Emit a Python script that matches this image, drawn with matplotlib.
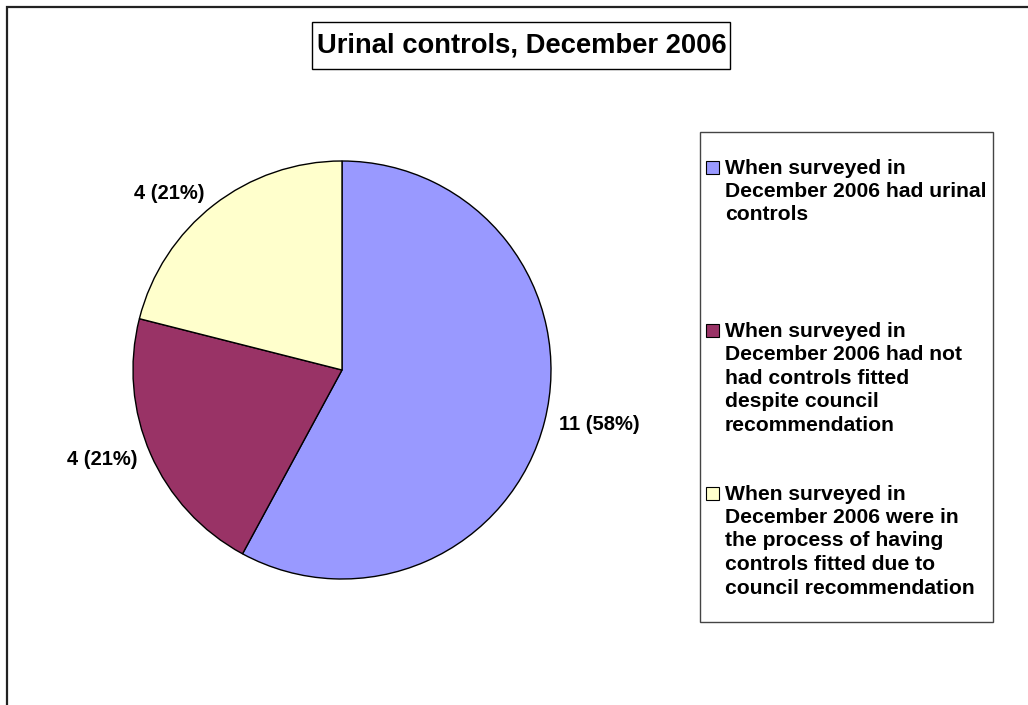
import numpy as np
import matplotlib
matplotlib.use("Agg")
import matplotlib.pyplot as plt
from matplotlib.patches import Rectangle

plt.rcParams["font.family"] = ["Liberation Sans", "DejaVu Sans"]

title = "Urinal controls, December 2006"
counts = [11, 4, 4]
colors = ["#9999FF", "#993366", "#FFFFCC"]
legend_labels = [
    "When surveyed in\nDecember 2006 had urinal\ncontrols",
    "When surveyed in\nDecember 2006 had not\nhad controls fitted\ndespite council\nrecommendation",
    "When surveyed in\nDecember 2006 were in\nthe process of having\ncontrols fitted due to\ncouncil recommendation",
]

W, H = 1028, 705
fig = plt.figure(figsize=(W / 100, H / 100), dpi=100, facecolor="white")


def fx(x):
    return x / W


def fy(y):
    return 1 - y / H


# outer chart-area border (only left/top visible in the frame)
fig.patches.append(Rectangle((fx(7), fy(H + 20)), fx(W + 40), (H + 13) / H,
                             transform=fig.transFigure, fill=False,
                             edgecolor="#222222", lw=1.6))

# title with its box
fig.patches.append(Rectangle((fx(312), fy(69)), fx(730 - 312), (69 - 22) / H,
                             transform=fig.transFigure, fill=False,
                             edgecolor="black", lw=1))
fig.text(fx(522), fy(45.5), title, ha="center", va="center",
         fontsize=19.7, fontweight="bold")

# pie
cx, cy, r = 342, 370, 209
ax = fig.add_axes([fx(cx - r), fy(cy + r), 2 * r / W, 2 * r / H])
total = sum(counts)
labels = [f"{c} ({c / total * 100:.0f}%)" for c in counts]
wedges, texts = ax.pie(counts, colors=colors, startangle=90, counterclock=False,
                       labels=labels, labeldistance=1.07,
                       wedgeprops=dict(edgecolor="black", linewidth=1),
                       textprops=dict(fontsize=14.5, fontweight="bold"))
ax.set_xlim(-1, 1)
ax.set_ylim(-1, 1)
ax.set_aspect("auto")
ax.axis("off")

# legend box, drawn by hand to match the tall spacing
fig.patches.append(Rectangle((fx(700), fy(622)), fx(993 - 700), (622 - 132) / H,
                             transform=fig.transFigure, fill=False,
                             edgecolor="#444444", lw=1))
first_line_y = [167, 330, 493]
for lab, col, y in zip(legend_labels, colors, first_line_y):
    fig.patches.append(Rectangle((fx(706), fy(y + 6.5)), fx(12.5), 12.5 / H,
                                 transform=fig.transFigure, facecolor=col,
                                 edgecolor="black", lw=0.8))
    fig.text(fx(725), fy(y - 8.5), lab, ha="left", va="top",
             fontsize=15.2, fontweight="bold", linespacing=1.3)

fig.savefig("out.png", dpi=100, facecolor="white")
